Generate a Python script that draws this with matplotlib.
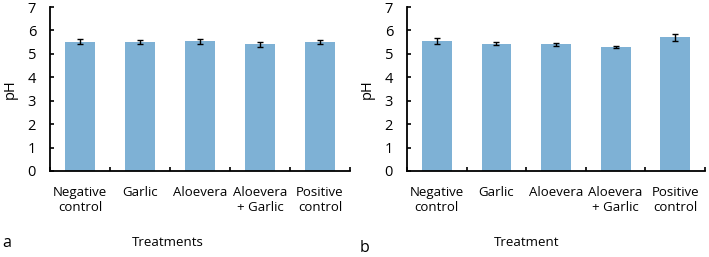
import matplotlib.pyplot as plt
import numpy as np

plt.rcParams['font.family'] = ['Open Sans', 'DejaVu Sans']

categories = ["Negative\ncontrol", "Garlic", "Aloevera", "Aloevera\n+ Garlic", "Positive\ncontrol"]

ph_a = [5.52, 5.50, 5.54, 5.40, 5.52]
err_a = [0.12, 0.09, 0.10, 0.10, 0.09]

ph_b = [5.54, 5.43, 5.40, 5.30, 5.70]
err_b = [0.12, 0.06, 0.06, 0.03, 0.16]

bar_color = "#7eb1d5"
W, H = 709, 257

fig = plt.figure(figsize=(W / 100, H / 100), dpi=100)


def panel(left, width, values, errors, letter, xlabel, letter_xy, label_x):
    ax = fig.add_axes([left / W, (H - 171) / H, width / W, 164 / H])
    x = np.arange(len(categories))
    ax.bar(x, values, width=0.5, color=bar_color)
    ax.errorbar(x, values, yerr=errors, fmt="none", ecolor="black",
                elinewidth=1, capsize=2, capthick=1)
    ax.set_xlim(-0.5, len(categories) - 0.5)
    ax.set_ylim(0, 7)
    ax.set_yticks(range(8))
    ax.set_xticks(x)
    ax.set_xticklabels(categories, fontsize=9.5, linespacing=1.15)
    ax.tick_params(axis="x", length=0, pad=11)
    ax.set_xticks(np.arange(-0.5, len(categories)), minor=True)
    ax.tick_params(axis="x", which="minor", direction="in", length=3, width=1.2)
    ax.tick_params(axis="y", direction="in", length=3, width=1.2, labelsize=10.5, pad=10)
    for s in ("top", "right"):
        ax.spines[s].set_visible(False)
    for s in ("left", "bottom"):
        ax.spines[s].set_linewidth(1.3)
    ax.set_ylabel("pH", fontsize=10.5, labelpad=7)
    fig.text(label_x / W, 1 - 243 / H, xlabel, ha="center", va="center", fontsize=9.5)
    fig.text(letter_xy[0] / W, 1 - letter_xy[1] / H, letter, ha="left", va="center", fontsize=11.5)
    return ax


panel(50, 300, ph_a, err_a, "a", "Treatments", (2, 243), 168)
panel(407, 298, ph_b, err_b, "b", "Treatment", (360, 248), 527)

fig.savefig("out.png", dpi=100)
